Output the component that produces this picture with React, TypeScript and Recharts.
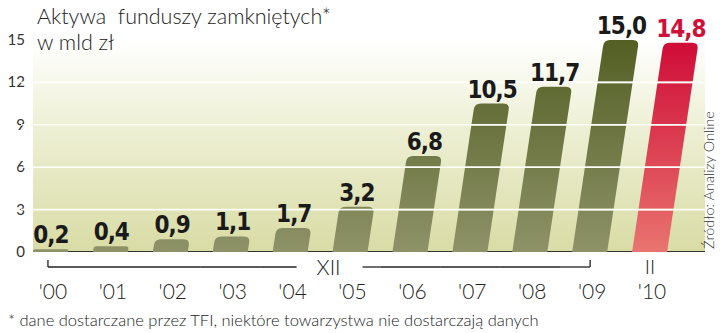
import { BarChart, Bar, Cell, XAxis, YAxis, ReferenceLine, LabelList } from 'recharts';

const categories = ["'00", "'01", "'02", "'03", "'04", "'05", "'06", "'07", "'08", "'09", "'10"];
const values = [0.2, 0.4, 0.9, 1.1, 1.7, 3.2, 6.8, 10.5, 11.7, 15.0, 14.8];
const yTicks = [0, 3, 6, 9, 12, 15];
const gridValues = [3, 6, 9, 12];

const data = categories.map((year, i) => ({ year, value: values[i] }));

const LIGHT = "Lato, 'Liberation Sans', sans-serif";
const BOLD = "'Liberation Sans Narrow', 'DejaVu Sans Condensed', sans-serif";
const SLANT = 0.15;
const AXIS_Y = 252;
const GRID_STROKE = '#ffffff';
const lastIdx = categories.length - 1;
const chartMargin = { top: 40, right: 15, left: 0, bottom: 0 };
const xPadding = { left: 0, right: 25 };

const fmt = (v: number) => v.toFixed(1).replace('.', ',');

function SlantBar(props: any) {
  const { x, y, width, height, fill } = props;
  if (!height || height <= 0) return null;
  const s = height * SLANT;
  const r = Math.min(6, height / 2);
  const k = r / height;
  const d =
    `M${x},${y + height} L${x + width},${y + height} ` +
    `L${x + width + s - s * k},${y + r} Q${x + width + s},${y} ${x + width + s - r},${y} ` +
    `L${x + s + r},${y} Q${x + s},${y} ${x + s - s * k},${y + r} Z`;
  // grid stripes across the bar, placed from the bar's own value
  const raw = props.payload && props.payload.value != null ? props.payload.value : props.value;
  const v = Array.isArray(raw) ? Number(raw[1]) : Number(raw);
  const stripes =
    v > 0
      ? gridValues
          .filter((g) => g < v - 0.3)
          .map((g) => {
            const yy = y + height - (g * height) / v;
            const lx = x + (s * g) / v;
            return <rect key={g} x={lx - 0.5} y={yy - 0.8} width={width + 1} height={1.6} fill="#f3f4e2" />;
          })
      : null;
  return (
    <g>
      <path d={d} fill={fill} />
      {stripes}
    </g>
  );
}

function ValueLabel(props: any) {
  const { value, index } = props;
  const vb = props.viewBox && props.viewBox.width ? props.viewBox : props;
  const bx = Number(vb.x);
  const by = Number(vb.y);
  const bw = Number(vb.width);
  const s = Number(vb.height) * SLANT;
  return (
    <text
      x={bx + bw / 2 + s}
      y={by - 6}
      textAnchor="middle"
      fontFamily={BOLD}
      fontWeight={700}
      fontSize={24}
      letterSpacing={-1}
      fill={index === lastIdx ? '#d0103a' : '#1a1a1a'}
    >
      {fmt(Number(value))}
    </text>
  );
}

function YTick(props: any) {
  const { y, payload } = props;
  return (
    <text x={25} y={y} dy={5} textAnchor="end" fontFamily={LIGHT} fontSize={15} fill="#333">
      {payload.value}
    </text>
  );
}

function XTick(props: any) {
  const { x, payload } = props;
  const i = categories.indexOf(payload.value);
  const by = AXIS_Y + 15;
  const parts = [];
  if (i <= 9) {
    let x1 = i === 0 ? x - 3 : x - 30;
    let x2 = i === 9 ? x : x + 30;
    if (i === 4) x2 = x + 6;
    if (i === 5) x1 = x + 12;
    parts.push(<line key="l" x1={x1} x2={x2} y1={by} y2={by} stroke="#222" strokeWidth={1.3} />);
    if (i === 0) parts.push(<line key="t0" x1={x1} x2={x1} y1={by} y2={by - 7} stroke="#222" strokeWidth={1.3} />);
    if (i === 9) parts.push(<line key="t9" x1={x2} x2={x2} y1={by} y2={by - 7} stroke="#222" strokeWidth={1.3} />);
  }
  if (i === 4) {
    parts.push(
      <text key="xii" x={x + 38} y={AXIS_Y + 23} textAnchor="middle" fontFamily={LIGHT} fontWeight={300} fontSize={21} fill="#222">
        XII
      </text>
    );
  }
  if (i === 10) {
    parts.push(
      <text key="ii" x={x} y={AXIS_Y + 22} textAnchor="middle" fontFamily={LIGHT} fontWeight={300} fontSize={20} fill="#222">
        II
      </text>
    );
  }
  return (
    <g>
      {parts}
      <text x={x + 2} y={AXIS_Y + 47} textAnchor="middle" fontFamily={LIGHT} fontWeight={300} fontSize={21} fill="#222">
        {payload.value}
      </text>
    </g>
  );
}

export default function App() {
  return (
    <div style={{ position: 'absolute', left: 0, top: 0, width: 720, height: 333, background: '#fff' }}>
      <div
        style={{
          position: 'absolute',
          left: 33,
          top: 40,
          width: 672,
          height: 211,
          background: 'linear-gradient(to bottom, #ffffff 0%, #eef0d6 40%, #d9dca5 100%)',
          borderBottom: '1.5px solid #333',
        }}
      />
      <div
        style={{
          position: 'absolute',
          left: 37,
          top: 3,
          fontFamily: LIGHT,
          fontWeight: 300,
          fontSize: 21.5,
          lineHeight: '26px',
          color: '#222',
          whiteSpace: 'pre',
        }}
      >
        {'Aktywa  funduszy zamkniętych*\nw mld zł'}
      </div>

      {/* bars and axes */}
      <div style={{ position: 'absolute', left: 0, top: 0 }}>
        <BarChart width={720} height={333} data={data} margin={chartMargin}>
          <defs>
            <linearGradient id="gGreen" gradientUnits="userSpaceOnUse" x1="0" y1="40" x2="0" y2="252">
              <stop offset="0%" stopColor="#535f24" />
              <stop offset="100%" stopColor="#8e9268" />
            </linearGradient>
            <linearGradient id="gRed" gradientUnits="userSpaceOnUse" x1="0" y1="40" x2="0" y2="252">
              <stop offset="0%" stopColor="#cf0b37" />
              <stop offset="100%" stopColor="#e9746f" />
            </linearGradient>
          </defs>
          <XAxis
            dataKey="year"
            height={81}
            axisLine={false}
            tickLine={false}
            tickSize={0}
            tickMargin={0}
            interval={0}
            padding={xPadding}
            tick={<XTick />}
          />
          <YAxis width={21} domain={[0, 15]} ticks={yTicks} axisLine={false} tickLine={false} tick={<YTick />} />
          <Bar dataKey="value" barSize={35} shape={<SlantBar />} isAnimationActive={false}>
            {data.map((d, i) => (
              <Cell key={d.year} fill={i === lastIdx ? 'url(#gRed)' : 'url(#gGreen)'} />
            ))}
          </Bar>
        </BarChart>
      </div>

      {/* same layout again: grid lines over the bars, then the value labels */}
      <div style={{ position: 'absolute', left: 0, top: 0 }}>
        <BarChart width={720} height={333} data={data} margin={chartMargin}>
          <XAxis dataKey="year" height={81} axisLine={false} tickLine={false} tick={false} padding={xPadding} />
          <YAxis width={21} domain={[0, 15]} ticks={yTicks} axisLine={false} tickLine={false} tick={false} />
          {gridValues.map((v) => (
            <ReferenceLine key={v} y={v} stroke={GRID_STROKE} strokeOpacity={0.9} strokeWidth={1.6} />
          ))}
          <Bar dataKey="value" barSize={35} fill="none" isAnimationActive={false}>
            <LabelList dataKey="value" content={<ValueLabel />} />
          </Bar>
        </BarChart>
      </div>

      <div
        style={{
          position: 'absolute',
          left: 708,
          top: 180,
          transform: 'translate(-50%, -50%) rotate(-90deg)',
          fontFamily: LIGHT,
          fontWeight: 300,
          fontSize: 14.5,
          color: '#333',
          whiteSpace: 'nowrap',
        }}
      >
        Źródło: Analizy Online
      </div>
      <div
        style={{
          position: 'absolute',
          left: 8,
          top: 310,
          fontFamily: LIGHT,
          fontWeight: 300,
          fontSize: 16.5,
          color: '#222',
          whiteSpace: 'nowrap',
        }}
      >
        * dane dostarczane przez TFI, niektóre towarzystwa nie dostarczają danych
      </div>
    </div>
  );
}
